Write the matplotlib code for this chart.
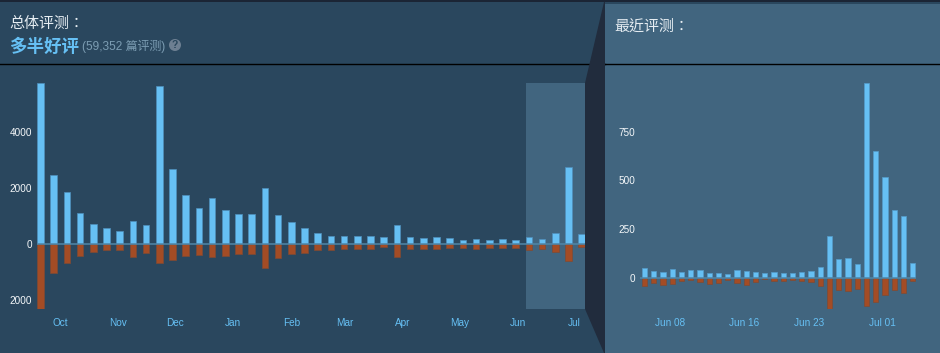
import matplotlib
matplotlib.use("Agg")
import matplotlib.pyplot as plt
import pandas as pd
from matplotlib.patches import Polygon, Rectangle, Circle

plt.rcParams['font.family'] = ['Liberation Sans', 'Noto Sans CJK TC', 'DejaVu Sans']

# overall reviews, one bar per week
all_up = [5770, 2470, 1875, 1100, 705, 585, 455, 835, 670, 5660, 2675, 1745, 1300, 1660, 1210, 1090, 1090, 2020, 1050, 790, 585,
          405, 275, 285, 275, 285, 240, 690, 265, 200, 235, 200, 160, 170, 160, 190, 150, 250, 180, 405, 2760, 370]
all_down = [-2330, -1050, -690, -420, -300, -215, -200, -450, -330, -680, -585, -430, -395, -450, -430, -370, -360, -860, -500, -360, -310,
            -215, -200, -190, -180, -180, -110, -465, -180, -180, -170, -130, -140, -170, -130, -130, -130, -200, -180, -270, -620, -110]
all_dates = pd.date_range("2018-09-20 18:00", periods=42, freq="7D")
all_ticks = ["2018-10-01", "2018-11-01", "2018-12-01", "2019-01-01", "2019-02-01", "2019-03-01", "2019-04-01", "2019-05-01", "2019-06-01", "2019-07-01"]
all_tick_labels = ["Oct", "Nov", "Dec", "Jan", "Feb", "Mar", "Apr", "May", "Jun", "Jul"]
all_yticks = [-2000, 0, 2000, 4000]
all_ylabels = ["2000", "0", "2000", "4000"]

# recent reviews, one bar per day
recent_up = [50, 36, 29, 48, 31, 43, 39, 26, 26, 19, 39, 36, 29, 26, 29, 26,
             26, 32, 38, 58, 214, 96, 104, 74, 1000, 650, 516, 350, 316, 75]
recent_down = [-39, -26, -36, -29, -15, -9, -20, -29, -24, -9, -26, -36, -20, -7, -14, -17,
               -10, -17, -20, -39, -160, -63, -68, -56, -144, -123, -89, -60, -79, -15]
recent_dates = pd.date_range("2019-06-05 06:00", periods=30, freq="1D")
recent_ticks = ["2019-06-08", "2019-06-16", "2019-06-23", "2019-07-01"]
recent_tick_labels = ["Jun 08", "Jun 16", "Jun 23", "Jul 01"]
recent_yticks = [0, 250, 500, 750]

W, H = 940, 353
LEFT_BG = "#2a475e"
RIGHT_BG = "#41657f"
DARK = "#212c3d"
UP = "#66c0f4"
DOWN = "#a34c25"
ZERO = "#4f86a8"


def px_axes(x0, y0, x1, y1):
    # axes from pixel box, y measured from the top
    return fig.add_axes([x0 / W, 1 - y1 / H, (x1 - x0) / W, (y1 - y0) / H])


def style_axes(ax):
    ax.patch.set_alpha(0)
    for s in ax.spines.values():
        s.set_visible(False)
    ax.axhline(0, color=ZERO, lw=1.1, zorder=5)
    ax.tick_params(axis='y', length=0, pad=3.5, labelsize=7.2, labelcolor="#f4f7f9")
    ax.tick_params(axis='x', length=0, pad=6.5, labelsize=7.2, labelcolor="#66c0f4")


fig = plt.figure(figsize=(W / 100, H / 100), dpi=100, facecolor=LEFT_BG)

# backgrounds and headers in pixel coordinates
bg = fig.add_axes([0, 0, 1, 1])
bg.set_xlim(0, W)
bg.set_ylim(H, 0)
bg.axis("off")
bg.add_patch(Rectangle((0, 0), W, 2, color="#1b2535", lw=0))
bg.add_patch(Rectangle((605, 4), W - 605, H - 4, color=RIGHT_BG, lw=0))
bg.plot([0, 605], [64, 64], color="#000000", lw=1)
bg.plot([605, W], [64, 64], color="#000000", lw=1)
bg.add_patch(Polygon([(604, 2), (605, 2), (605, H), (604, H), (585, 309), (585, 83)], color=DARK, lw=0, zorder=3))

bg.text(9.5, 23.5, "总体评测：", color="#e6edf2", fontsize=10.8, va="center", ha="left")
bg.text(614.5, 26.5, "最近评测：", color="#e6edf2", fontsize=10.8, va="center", ha="left")
bg.text(9.5, 46, "多半好评", color=UP, fontsize=12.6, fontweight="bold", va="center", ha="left")
bg.text(82, 46, "(59,352 篇评测)", color="#7c9db3", fontsize=8.6, va="center", ha="left")
bg.add_patch(Circle((175, 45), 6, color="#6d7f92", lw=0))
bg.text(175, 45, "?", color="#2a475e", fontsize=7.5, fontweight="bold", va="center", ha="center")

# overall chart
ax1 = px_axes(37, 83, 585, 309)
style_axes(ax1)
days_per_px = 7 / 13.2
ax1_end = all_dates[0] + pd.Timedelta(days=544.5 * days_per_px)
ax1.axvspan(pd.Timestamp("2019-06-05"), ax1_end, color=RIGHT_BG, lw=0, zorder=0)
ax1.bar(all_dates, all_up, width=3.4, color=UP, edgecolor="#4f8fbb", lw=0.5, zorder=2)
ax1.bar(all_dates, all_down, width=3.4, color=DOWN, edgecolor="#7f4a33", lw=0.5, zorder=2)
ax1.set_xlim(all_dates[0] - pd.Timedelta(days=3.5 * days_per_px), ax1_end)
ax1.set_ylim(-2330, 5770)
ax1.set_xticks(pd.to_datetime(all_ticks))
ax1.set_xticklabels(all_tick_labels)
ax1.set_yticks(all_yticks)
ax1.set_yticklabels(all_ylabels)

# recent chart
ax2 = px_axes(640, 83, 916, 309)
style_axes(ax2)
day_px = 9.25
ax2.bar(recent_dates, recent_up, width=0.58, color=UP, edgecolor="#559cc9", lw=0.5, zorder=2)
ax2.bar(recent_dates, recent_down, width=0.58, color=DOWN, edgecolor="#7f4a33", lw=0.5, zorder=2)
ax2.set_xlim(recent_dates[0] - pd.Timedelta(days=4.5 / day_px), recent_dates[0] + pd.Timedelta(days=271.5 / day_px))
ax2.set_ylim(-159, 1000)
ax2.set_xticks(pd.to_datetime(recent_ticks))
ax2.set_xticklabels(recent_tick_labels)
ax2.set_yticks(recent_yticks)
ax2.set_yticklabels([str(v) for v in recent_yticks])

fig.savefig("out.png", dpi=100, facecolor=LEFT_BG)
